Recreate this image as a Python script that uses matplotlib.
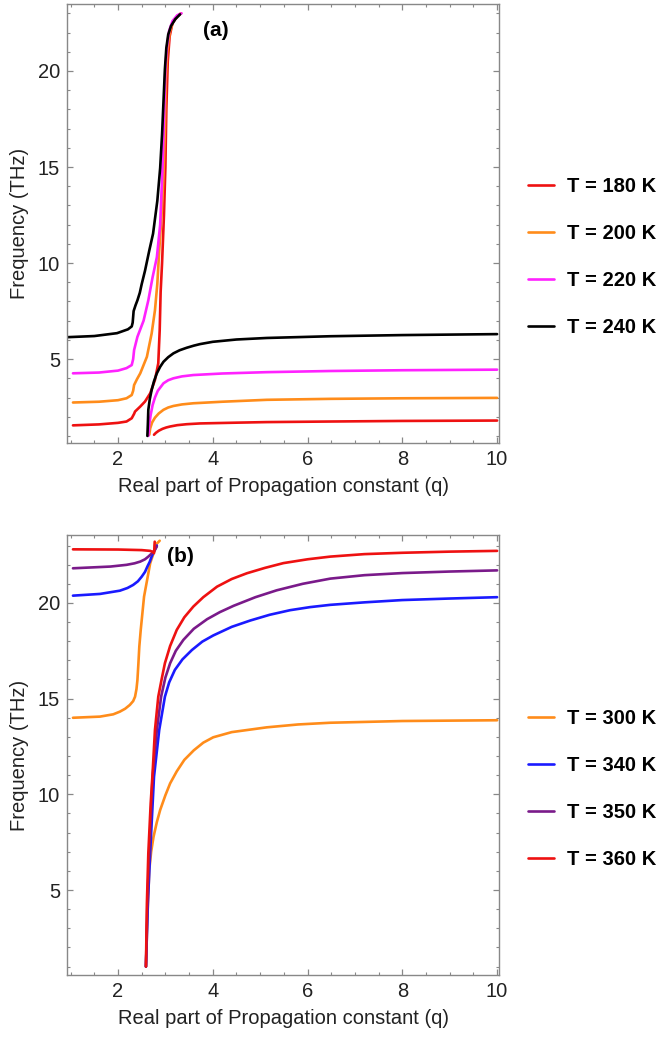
import matplotlib
matplotlib.use('Agg')
import matplotlib.pyplot as plt
from matplotlib.ticker import MultipleLocator

plt.rcParams['font.family'] = ['Liberation Sans', 'DejaVu Sans']
plt.rcParams['font.size'] = 14.5

# ---- panel (a) data ----
a_labels = ['T = 180 K', 'T = 200 K', 'T = 220 K', 'T = 240 K']
a_colors = ['#ee1111', '#ff8c1a', '#ff22ff', 'black']

# upper branches
a180_up_x = [1.05, 1.6, 2.0, 2.18, 2.29, 2.34, 2.36, 2.47, 2.57, 2.68, 2.78, 2.85, 2.88, 2.90, 2.93, 2.97, 3.0, 3.02, 3.05, 3.09, 3.15, 3.25, 3.33]
a180_up_y = [1.55, 1.6, 1.68, 1.75, 1.92, 2.15, 2.27, 2.53, 2.79, 3.22, 3.91, 4.78, 6.5, 8.5, 10.0, 12.5, 15.0, 18.0, 20.5, 21.8, 22.5, 22.85, 23.0]
a200_up_x = [1.05, 1.6, 2.0, 2.18, 2.29, 2.32, 2.34, 2.40, 2.47, 2.61, 2.71, 2.78, 2.83, 2.87, 2.92, 2.96, 2.99, 3.01, 3.04, 3.09, 3.16, 3.25, 3.33]
a200_up_y = [2.74, 2.78, 2.86, 2.96, 3.13, 3.35, 3.65, 3.95, 4.26, 5.12, 6.33, 7.54, 8.92, 10.65, 12.5, 14.5, 17.0, 19.5, 21.0, 22.0, 22.55, 22.85, 23.0]
a220_up_x = [1.05, 1.6, 2.0, 2.18, 2.29, 2.32, 2.34, 2.41, 2.54, 2.64, 2.73, 2.82, 2.89, 2.94, 2.98, 3.00, 3.03, 3.08, 3.15, 3.25, 3.34]
a220_up_y = [4.26, 4.3, 4.4, 4.53, 4.69, 5.0, 5.47, 6.16, 7.0, 8.06, 9.26, 10.3, 12.0, 15.0, 18.4, 20.1, 21.2, 22.1, 22.6, 22.9, 23.0]
a240_up_x = [0.924, 1.5, 1.98, 2.21, 2.29, 2.31, 2.33, 2.37, 2.41, 2.46, 2.50, 2.57, 2.66, 2.74, 2.83, 2.89, 2.93, 2.96, 2.99, 3.02, 3.06, 3.12, 3.21, 3.31]
a240_up_y = [6.14, 6.2, 6.35, 6.55, 6.7, 6.9, 7.5, 7.8, 8.06, 8.45, 8.9, 9.6, 10.65, 11.53, 13.24, 14.95, 16.7, 18.4, 20.1, 21.2, 21.9, 22.35, 22.7, 22.95]

# lower branches
a180_lo_x = [2.76, 2.80, 2.86, 2.94, 3.02, 3.10, 3.25, 3.45, 3.73, 4.5, 5.14, 6.48, 8.0, 10.0]
a180_lo_y = [1.06, 1.16, 1.27, 1.37, 1.44, 1.49, 1.56, 1.61, 1.65, 1.69, 1.72, 1.75, 1.78, 1.8]
a200_lo_x = [2.66, 2.68, 2.72, 2.78, 2.86, 2.96, 3.06, 3.17, 3.35, 3.59, 4.2, 5.14, 6.48, 8.0, 10.0]
a200_lo_y = [1.06, 1.4, 1.7, 1.95, 2.17, 2.36, 2.48, 2.56, 2.64, 2.70, 2.78, 2.88, 2.93, 2.96, 2.98]
a220_lo_x = [2.64, 2.66, 2.69, 2.73, 2.78, 2.84, 2.96, 3.06, 3.17, 3.35, 3.59, 4.2, 5.14, 6.48, 8.0, 10.0]
a220_lo_y = [1.0, 1.6, 2.1, 2.6, 3.0, 3.35, 3.74, 3.9, 4.0, 4.1, 4.17, 4.25, 4.32, 4.38, 4.42, 4.45]
a240_lo_x = [2.62, 2.63, 2.64, 2.67, 2.71, 2.76, 2.82, 2.89, 2.96, 3.06, 3.17, 3.3, 3.45, 3.6, 3.73, 4.0, 4.5, 5.14, 6.48, 8.0, 10.0]
a240_lo_y = [1.0, 1.6, 2.36, 2.9, 3.39, 3.85, 4.26, 4.6, 4.86, 5.1, 5.3, 5.46, 5.59, 5.7, 5.78, 5.9, 6.02, 6.1, 6.19, 6.25, 6.3]

# ---- panel (b) data ----
b_labels = ['T = 300 K', 'T = 340 K', 'T = 350 K', 'T = 360 K']
b_colors = ['#ff8c1a', '#1a1aff', '#7a1a8a', '#ee1111']

b300_up_x = [1.05, 1.62, 1.9, 2.04, 2.15, 2.25, 2.32, 2.36, 2.39, 2.41, 2.43, 2.45, 2.48, 2.55, 2.68, 2.82, 2.88]
b300_up_y = [14.0, 14.06, 14.18, 14.32, 14.47, 14.67, 14.87, 15.1, 15.5, 15.97, 16.8, 17.72, 18.59, 20.33, 22.08, 23.1, 23.25]
b340_up_x = [1.05, 1.62, 2.04, 2.2, 2.32, 2.42, 2.50, 2.57, 2.62, 2.67, 2.71, 2.75, 2.79, 2.82]
b340_up_y = [20.38, 20.47, 20.64, 20.78, 20.94, 21.13, 21.37, 21.62, 21.9, 22.15, 22.42, 22.65, 22.86, 23.0]
b350_up_x = [1.05, 1.84, 2.18, 2.35, 2.47, 2.57, 2.64, 2.71, 2.78, 2.82]
b350_up_y = [21.81, 21.9, 21.99, 22.07, 22.16, 22.28, 22.42, 22.58, 22.77, 22.95]
b360_up_x = [1.05, 2.0, 2.5, 2.68, 2.74, 2.76, 2.765, 2.77, 2.775]
b360_up_y = [22.8, 22.79, 22.76, 22.72, 22.66, 22.6, 22.7, 23.0, 23.2]

b300_lo_x = [2.59, 2.62, 2.66, 2.70, 2.75, 2.82, 2.89, 3.0, 3.10, 3.24, 3.4, 3.6, 3.8, 4.01, 4.4, 5.14, 5.8, 6.48, 8.0, 10.0]
b300_lo_y = [1.0, 3.5, 6.04, 7.0, 7.78, 8.55, 9.18, 9.95, 10.57, 11.2, 11.8, 12.3, 12.7, 12.98, 13.25, 13.5, 13.65, 13.74, 13.83, 13.87]
b340_lo_x = [2.59, 2.63, 2.68, 2.76, 2.87, 2.99, 3.08, 3.2, 3.36, 3.56, 3.78, 4.01, 4.4, 4.79, 5.2, 5.63, 6.05, 6.48, 7.2, 8.0, 9.0, 10.0]
b340_lo_y = [1.0, 4.3, 7.0, 10.92, 13.36, 15.1, 15.85, 16.5, 17.05, 17.54, 17.98, 18.3, 18.75, 19.08, 19.38, 19.62, 19.78, 19.9, 20.03, 20.15, 20.23, 20.3]
b350_lo_x = [2.59, 2.62, 2.66, 2.73, 2.82, 2.91, 3.0, 3.10, 3.22, 3.38, 3.6, 3.88, 4.15, 4.44, 4.9, 5.35, 5.9, 6.48, 7.2, 8.0, 9.0, 10.0]
b350_lo_y = [1.0, 4.3, 7.0, 10.92, 13.36, 15.1, 16.1, 16.85, 17.5, 18.07, 18.65, 19.15, 19.52, 19.85, 20.3, 20.66, 21.0, 21.27, 21.45, 21.56, 21.64, 21.7]
b360_lo_x = [2.59, 2.61, 2.64, 2.69, 2.73, 2.78, 2.85, 2.92, 2.99, 3.1, 3.24, 3.4, 3.59, 3.8, 4.09, 4.4, 4.72, 5.1, 5.49, 6.0, 6.48, 7.2, 8.0, 9.0, 10.0]
b360_lo_y = [1.0, 4.3, 6.92, 9.53, 11.1, 13.36, 15.1, 16.0, 16.85, 17.75, 18.59, 19.25, 19.81, 20.3, 20.85, 21.25, 21.55, 21.83, 22.08, 22.28, 22.42, 22.55, 22.62, 22.68, 22.72]

a_curves = [(a180_up_x, a180_up_y, a180_lo_x, a180_lo_y),
            (a200_up_x, a200_up_y, a200_lo_x, a200_lo_y),
            (a220_up_x, a220_up_y, a220_lo_x, a220_lo_y),
            (a240_up_x, a240_up_y, a240_lo_x, a240_lo_y)]
b_curves = [(b300_up_x, b300_up_y, b300_lo_x, b300_lo_y),
            (b340_up_x, b340_up_y, b340_lo_x, b340_lo_y),
            (b350_up_x, b350_up_y, b350_lo_x, b350_lo_y),
            (b360_up_x, b360_up_y, b360_lo_x, b360_lo_y)]

fig = plt.figure(figsize=(6.62, 10.39), dpi=100)
ax_a = fig.add_axes([0.1012, 0.5736, 0.6526, 0.4226])
ax_b = fig.add_axes([0.1012, 0.0616, 0.6526, 0.4235])


def style_axes(ax, ylim):
    ax.set_xlim(0.924, 10.04)
    ax.set_ylim(*ylim)
    ax.xaxis.set_major_locator(MultipleLocator(2))
    ax.xaxis.set_minor_locator(MultipleLocator(0.5))
    ax.yaxis.set_major_locator(MultipleLocator(5))
    ax.yaxis.set_minor_locator(MultipleLocator(1))
    ax.tick_params(which='both', direction='in', top=True, right=True,
                   color='#888888', labelcolor='#222222')
    ax.tick_params(which='major', length=4.5, width=0.9, pad=5)
    ax.tick_params(which='minor', length=2.5, width=0.8)
    for s in ax.spines.values():
        s.set_color('#888888')
        s.set_linewidth(1.0)
    ax.set_xlabel('Real part of Propagation constant (q)', labelpad=6, color='#222222')
    ax.set_ylabel('Frequency (THz)', labelpad=6, color='#222222')


def draw(ax, curves, colors, labels):
    handles = []
    for (ux, uy, lx, ly), c, lab in zip(curves, colors, labels):
        h, = ax.plot(ux, uy, color=c, lw=1.9, label=lab, solid_capstyle='round',
                     solid_joinstyle='round')
        ax.plot(lx, ly, color=c, lw=1.9, solid_capstyle='round', solid_joinstyle='round')
        handles.append(h)
    return handles


ha = draw(ax_a, a_curves, a_colors, a_labels)
hb = draw(ax_b, b_curves, b_colors, b_labels)
style_axes(ax_a, (0.63, 23.49))
style_axes(ax_b, (0.56, 23.55))

ax_a.text(4.07, 22.1, '(a)', fontweight='bold', ha='center', va='center', fontsize=15)
ax_b.text(3.31, 22.4, '(b)', fontweight='bold', ha='center', va='center', fontsize=15)

for handles, ycen in [(ha, 0.7525), (hb, 0.2405)]:
    fig.legend(handles=handles, loc='center left', bbox_to_anchor=(0.797, ycen),
               frameon=False, borderpad=0, borderaxespad=0, handlelength=1.3,
               handletextpad=0.65, labelspacing=1.38,
               prop={'weight': 'bold', 'size': 14.5})

fig.savefig('out.png', dpi=100)
